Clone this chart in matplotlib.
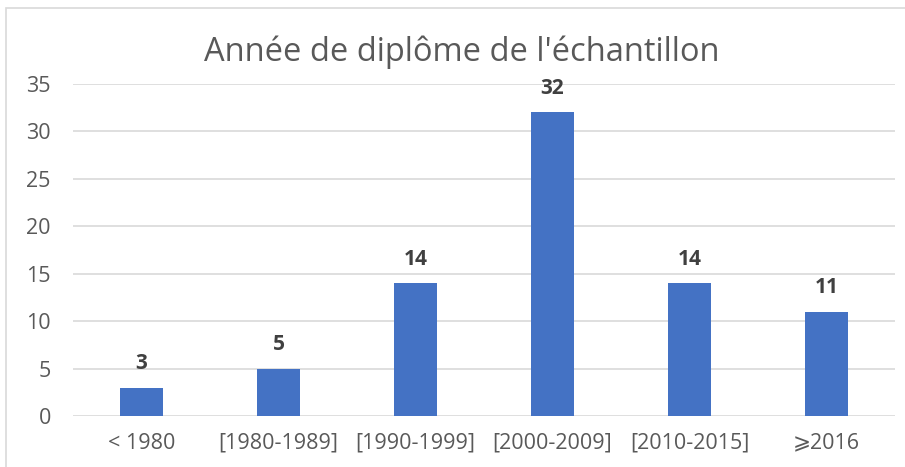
import matplotlib
matplotlib.use("Agg")
import matplotlib.pyplot as plt
from matplotlib.patches import Rectangle

categories = ["< 1980", "[1980-1989]", "[1990-1999]", "[2000-2009]", "[2010-2015]", "\u2A7E2016"]
values = [3, 5, 14, 32, 14, 11]
yticks = [0, 5, 10, 15, 20, 25, 30, 35]
title = "Année de diplôme de l'échantillon"

plt.rcParams['font.family'] = ['Open Sans', 'DejaVu Sans']
W, H = 905, 467
fig = plt.figure(figsize=(W / 100, H / 100), dpi=100)
ax = fig.add_axes([73 / W, 1 - 416 / H, (895 - 73) / W, (416 - 84) / H])

x = list(range(len(categories)))
ax.bar(x, values, width=0.31, color="#4472C4", zorder=3)
ax.set_xlim(-0.5, len(categories) - 0.5)
ax.set_ylim(0, 35)
ax.set_yticks(yticks)
ax.set_xticks(x)
ax.set_xticklabels(categories)
ax.grid(axis="y", color="#D9D9D9", linewidth=1.2, zorder=0)
for s in ax.spines.values():
    s.set_visible(False)
ax.tick_params(length=0, labelsize=15.5, colors="#595959")
ax.tick_params(axis="x", pad=12)
ax.tick_params(axis="y", pad=16)
for lab in ax.get_yticklabels():
    lab.set_horizontalalignment("right")

for xi, v in zip(x, values):
    ax.annotate(str(v), (xi, v), xytext=(0, 9.5), textcoords="offset points",
                ha="center", va="bottom", fontsize=15, fontweight="bold", color="#404040")

fig.text(462 / W, 1 - 52 / H, title, ha="center", va="center", fontsize=23.5, color="#595959")

fig.patches.append(Rectangle((6 / W, -0.1), 1.2, 1 - 8 / H + 0.1, transform=fig.transFigure,
                             fill=False, edgecolor="#D9D9D9", linewidth=1.2))

fig.savefig("out.png", dpi=100)
